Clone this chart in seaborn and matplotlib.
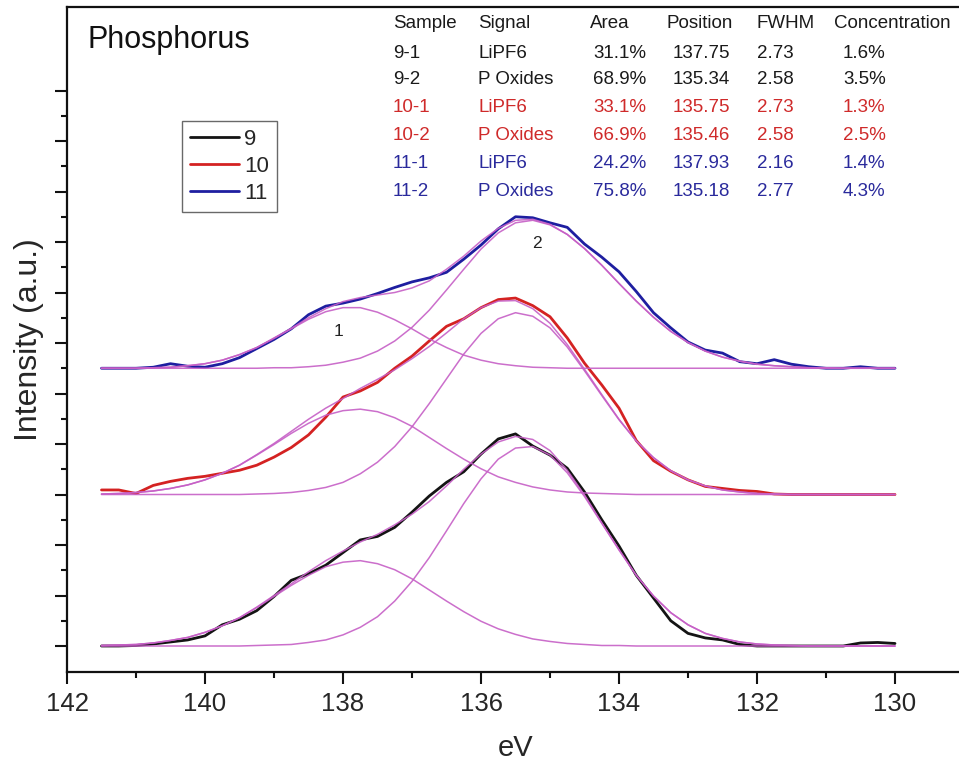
import numpy as np
import pandas as pd
import matplotlib
matplotlib.use("Agg")
import matplotlib.pyplot as plt
import seaborn as sns
from matplotlib.ticker import FixedLocator
from matplotlib.lines import Line2D

# ---------------- data ----------------
energy = [141.5, 141.25, 141.0, 140.75, 140.5, 140.25, 140.0, 139.75, 139.5, 139.25,
          139.0, 138.75, 138.5, 138.25, 138.0, 137.75, 137.5, 137.25, 137.0, 136.75,
          136.5, 136.25, 136.0, 135.75, 135.5, 135.25, 135.0, 134.75, 134.5, 134.25,
          134.0, 133.75, 133.5, 133.25, 133.0, 132.75, 132.5, 132.25, 132.0, 131.75,
          131.5, 131.25, 131.0, 130.75, 130.5, 130.25, 130.0]

samples = ["9", "10", "11"]
offsets = [0.0, 3.0, 5.5]

black_raw = [0, 0, 0.01, 0.04, 0.08, 0.12, 0.20, 0.42, 0.53, 0.70,
             0.98, 1.30, 1.43, 1.60, 1.85, 2.10, 2.17, 2.35, 2.65, 2.97,
             3.24, 3.45, 3.80, 4.10, 4.20, 3.96, 3.78, 3.52, 3.05, 2.50,
             1.98, 1.40, 0.95, 0.50, 0.25, 0.16, 0.12, 0.03, 0, 0,
             0, 0, 0, 0, 0.06, 0.07, 0.05]
black_p1 = [0.01, 0.02, 0.03, 0.06, 0.11, 0.17, 0.27, 0.40, 0.56, 0.76,
            0.98, 1.20, 1.40, 1.57, 1.66, 1.69, 1.63, 1.51, 1.33, 1.11,
            0.89, 0.68, 0.49, 0.34, 0.23, 0.14, 0.09, 0.05, 0.03, 0.01,
            0.01, 0, 0, 0, 0, 0, 0, 0, 0, 0,
            0, 0, 0, 0, 0, 0, 0]
black_p2 = [0, 0, 0, 0, 0, 0, 0, 0, 0, 0.01,
            0.02, 0.03, 0.07, 0.12, 0.22, 0.37, 0.58, 0.89, 1.28, 1.75,
            2.28, 2.82, 3.31, 3.70, 3.92, 3.95, 3.78, 3.43, 2.96, 2.43,
            1.90, 1.40, 0.99, 0.66, 0.42, 0.25, 0.15, 0.08, 0.04, 0.02,
            0.01, 0, 0, 0, 0, 0, 0]

red_raw = [0.09, 0.09, 0.02, 0.18, 0.26, 0.32, 0.36, 0.42, 0.48, 0.58,
           0.74, 0.93, 1.18, 1.53, 1.93, 2.05, 2.22, 2.50, 2.74, 3.04,
           3.33, 3.48, 3.70, 3.86, 3.89, 3.74, 3.52, 3.10, 2.60, 2.17,
           1.71, 1.07, 0.67, 0.46, 0.29, 0.16, 0.12, 0.08, 0.06, 0.01,
           0, 0, 0, 0, 0, 0, 0]
red_p1 = [0.01, 0.02, 0.04, 0.07, 0.12, 0.19, 0.29, 0.42, 0.58, 0.78,
          0.99, 1.21, 1.41, 1.57, 1.66, 1.69, 1.64, 1.52, 1.35, 1.13,
          0.91, 0.70, 0.51, 0.35, 0.24, 0.15, 0.09, 0.05, 0.03, 0.02,
          0.01, 0, 0, 0, 0, 0, 0, 0, 0, 0,
          0, 0, 0, 0, 0, 0, 0]
red_p2 = [0, 0, 0, 0, 0, 0, 0, 0, 0, 0.01,
          0.02, 0.04, 0.08, 0.14, 0.24, 0.41, 0.64, 0.95, 1.34, 1.80,
          2.29, 2.78, 3.19, 3.48, 3.60, 3.53, 3.30, 2.92, 2.45, 1.96,
          1.48, 1.06, 0.73, 0.47, 0.29, 0.17, 0.09, 0.05, 0.02, 0.01,
          0, 0, 0, 0, 0, 0, 0]

blue_raw = [0, 0, 0, 0.02, 0.09, 0.04, 0.02, 0.09, 0.21, 0.39,
            0.57, 0.78, 1.06, 1.23, 1.29, 1.37, 1.48, 1.60, 1.71, 1.79,
            1.90, 2.16, 2.44, 2.76, 3.00, 2.98, 2.88, 2.79, 2.46, 2.20,
            1.91, 1.52, 1.10, 0.80, 0.52, 0.36, 0.30, 0.13, 0.09, 0.17,
            0.08, 0.03, 0, 0, 0.03, 0, 0]
blue_p1 = [0, 0, 0, 0.01, 0.02, 0.05, 0.09, 0.16, 0.27, 0.41,
           0.59, 0.78, 0.97, 1.12, 1.20, 1.20, 1.11, 0.96, 0.78, 0.58,
           0.41, 0.26, 0.16, 0.09, 0.05, 0.02, 0.01, 0, 0, 0,
           0, 0, 0, 0, 0, 0, 0, 0, 0, 0,
           0, 0, 0, 0, 0, 0, 0]
blue_p2 = [0, 0, 0, 0, 0, 0, 0, 0, 0, 0,
           0.01, 0.01, 0.03, 0.06, 0.12, 0.20, 0.34, 0.54, 0.81, 1.15,
           1.55, 1.96, 2.36, 2.68, 2.88, 2.93, 2.84, 2.65, 2.37, 2.04,
           1.68, 1.33, 1.01, 0.73, 0.51, 0.34, 0.22, 0.14, 0.08, 0.05,
           0.03, 0.01, 0.01, 0, 0, 0, 0]

raw_series = [black_raw, red_raw, blue_raw]
peak1_series = [black_p1, red_p1, blue_p1]
peak2_series = [black_p2, red_p2, blue_p2]

table_header = ["Sample", "Signal", "Area", "Position", "FWHM", "Concentration"]
table_rows = [
    ["9-1", "LiPF6", "31.1%", "137.75", "2.73", "1.6%"],
    ["9-2", "P Oxides", "68.9%", "135.34", "2.58", "3.5%"],
    ["10-1", "LiPF6", "33.1%", "135.75", "2.73", "1.3%"],
    ["10-2", "P Oxides", "66.9%", "135.46", "2.58", "2.5%"],
    ["11-1", "LiPF6", "24.2%", "137.93", "2.16", "1.4%"],
    ["11-2", "P Oxides", "75.8%", "135.18", "2.77", "4.3%"],
]
row_groups = [0, 0, 1, 1, 2, 2]

x_ticks = [142, 140, 138, 136, 134, 132, 130]

# ---------------- style ----------------
sns.set_style("ticks")
plt.rcParams["font.family"] = ["Liberation Sans", "DejaVu Sans"]

raw_colors = ["#141414", "#d42222", "#1e1ea0"]
fit_color = "#c65fc6"
table_colors = ["#1a1a1a", "#cf2a2a", "#2a2a9c"]

W, H = 959, 763
fig = plt.figure(figsize=(W / 100, H / 100), dpi=100)
ax_left, ax_right, ax_top, ax_bottom = 67, 975, 7, 672
ax = fig.add_axes([ax_left / W, 1 - ax_bottom / H,
                   (ax_right - ax_left) / W, (ax_bottom - ax_top) / H])

px_per_ev = 69.0
px_per_unit = 50.5
ax.set_xlim(142, 142 - (ax_right - ax_left) / px_per_ev)
ax.set_ylim(-(ax_bottom - 646) / px_per_unit, (646 - ax_top) / px_per_unit)

en = np.array(energy)
for k in range(3):
    off = offsets[k]
    raw = np.array(raw_series[k]) + off
    p1 = np.array(peak1_series[k]) + off
    p2 = np.array(peak2_series[k]) + off
    env = np.array(peak1_series[k]) + np.array(peak2_series[k]) + off
    sns.lineplot(x=en, y=raw, ax=ax, color=raw_colors[k], linewidth=2.0,
                 estimator=None, sort=False, zorder=3, legend=False)
    for curve in (p1, p2, env):
        sns.lineplot(x=en, y=curve, ax=ax, color=fit_color, linewidth=1.1,
                     alpha=0.9, estimator=None, sort=False, zorder=4, legend=False)

# axes decoration
ax.xaxis.set_major_locator(FixedLocator(x_ticks))
ax.xaxis.set_minor_locator(FixedLocator([141, 139, 137, 135, 133, 131, 129]))
ax.yaxis.set_major_locator(FixedLocator(list(range(0, 12))))
ax.yaxis.set_minor_locator(FixedLocator([i + 0.5 for i in range(0, 11)]))
ax.set_xticklabels([str(t) for t in x_ticks])
ax.tick_params(axis="both", which="major", direction="out", length=8.5, width=1.5,
               labelsize=18.5, pad=6, color="#111111")
ax.tick_params(axis="both", which="minor", direction="out", length=4.5, width=1.5,
               color="#111111")
ax.tick_params(axis="y", labelleft=False)
for side in ("left", "bottom", "top"):
    ax.spines[side].set_linewidth(1.6)
    ax.spines[side].set_color("#111111")
ax.spines["right"].set_visible(False)

ax.set_xlabel("eV", fontsize=21, va="center")
ax.xaxis.set_label_coords((516 - ax_left) / (ax_right - ax_left),
                          -(748 - ax_bottom) / (ax_bottom - ax_top))
ax.set_ylabel("Intensity (a.u.)", fontsize=23, va="center", ha="center")
ax.yaxis.set_label_coords(-(ax_left - 29) / (ax_right - ax_left), 0.5)

# peak labels
ax.text(138.07, 6.22, "1", fontsize=12.5, ha="center", va="center", color="#222222")
ax.text(135.19, 7.98, "2", fontsize=12.5, ha="center", va="center", color="#222222")

# title-like label
fig.text(87 / W, 1 - 40 / H, "Phosphorus", fontsize=22, ha="left", va="center",
         color="#111111")

# table text
head_x = [393, 478, 590, 666, 756, 834]
col_x = [393, 478, 593, 673, 757, 843]
row_y = [53, 80, 108, 136, 164, 192]
for cx, txt in zip(head_x, table_header):
    fig.text(cx / W, 1 - 23 / H, txt, fontsize=13.5, ha="left", va="center",
             color="#1a1a1a")
for r, row in enumerate(table_rows):
    for cx, txt in zip(col_x, row):
        fig.text(cx / W, 1 - row_y[r] / H, txt, fontsize=13.5, ha="left", va="center",
                 color=table_colors[row_groups[r]])

# legend
handles = [Line2D([0], [0], color=raw_colors[k], linewidth=2.0) for k in range(3)]
leg = ax.legend(handles, samples, loc="upper left",
                bbox_to_anchor=(182 / W, 1 - 121 / H), bbox_transform=fig.transFigure,
                fontsize=16, frameon=True, fancybox=False, borderpad=0.35,
                handlelength=2.2, handletextpad=0.25, labelspacing=0.28,
                borderaxespad=0.0)
leg.get_frame().set_edgecolor("#444444")
leg.get_frame().set_linewidth(1.0)

fig.savefig("out.png", dpi=100)
